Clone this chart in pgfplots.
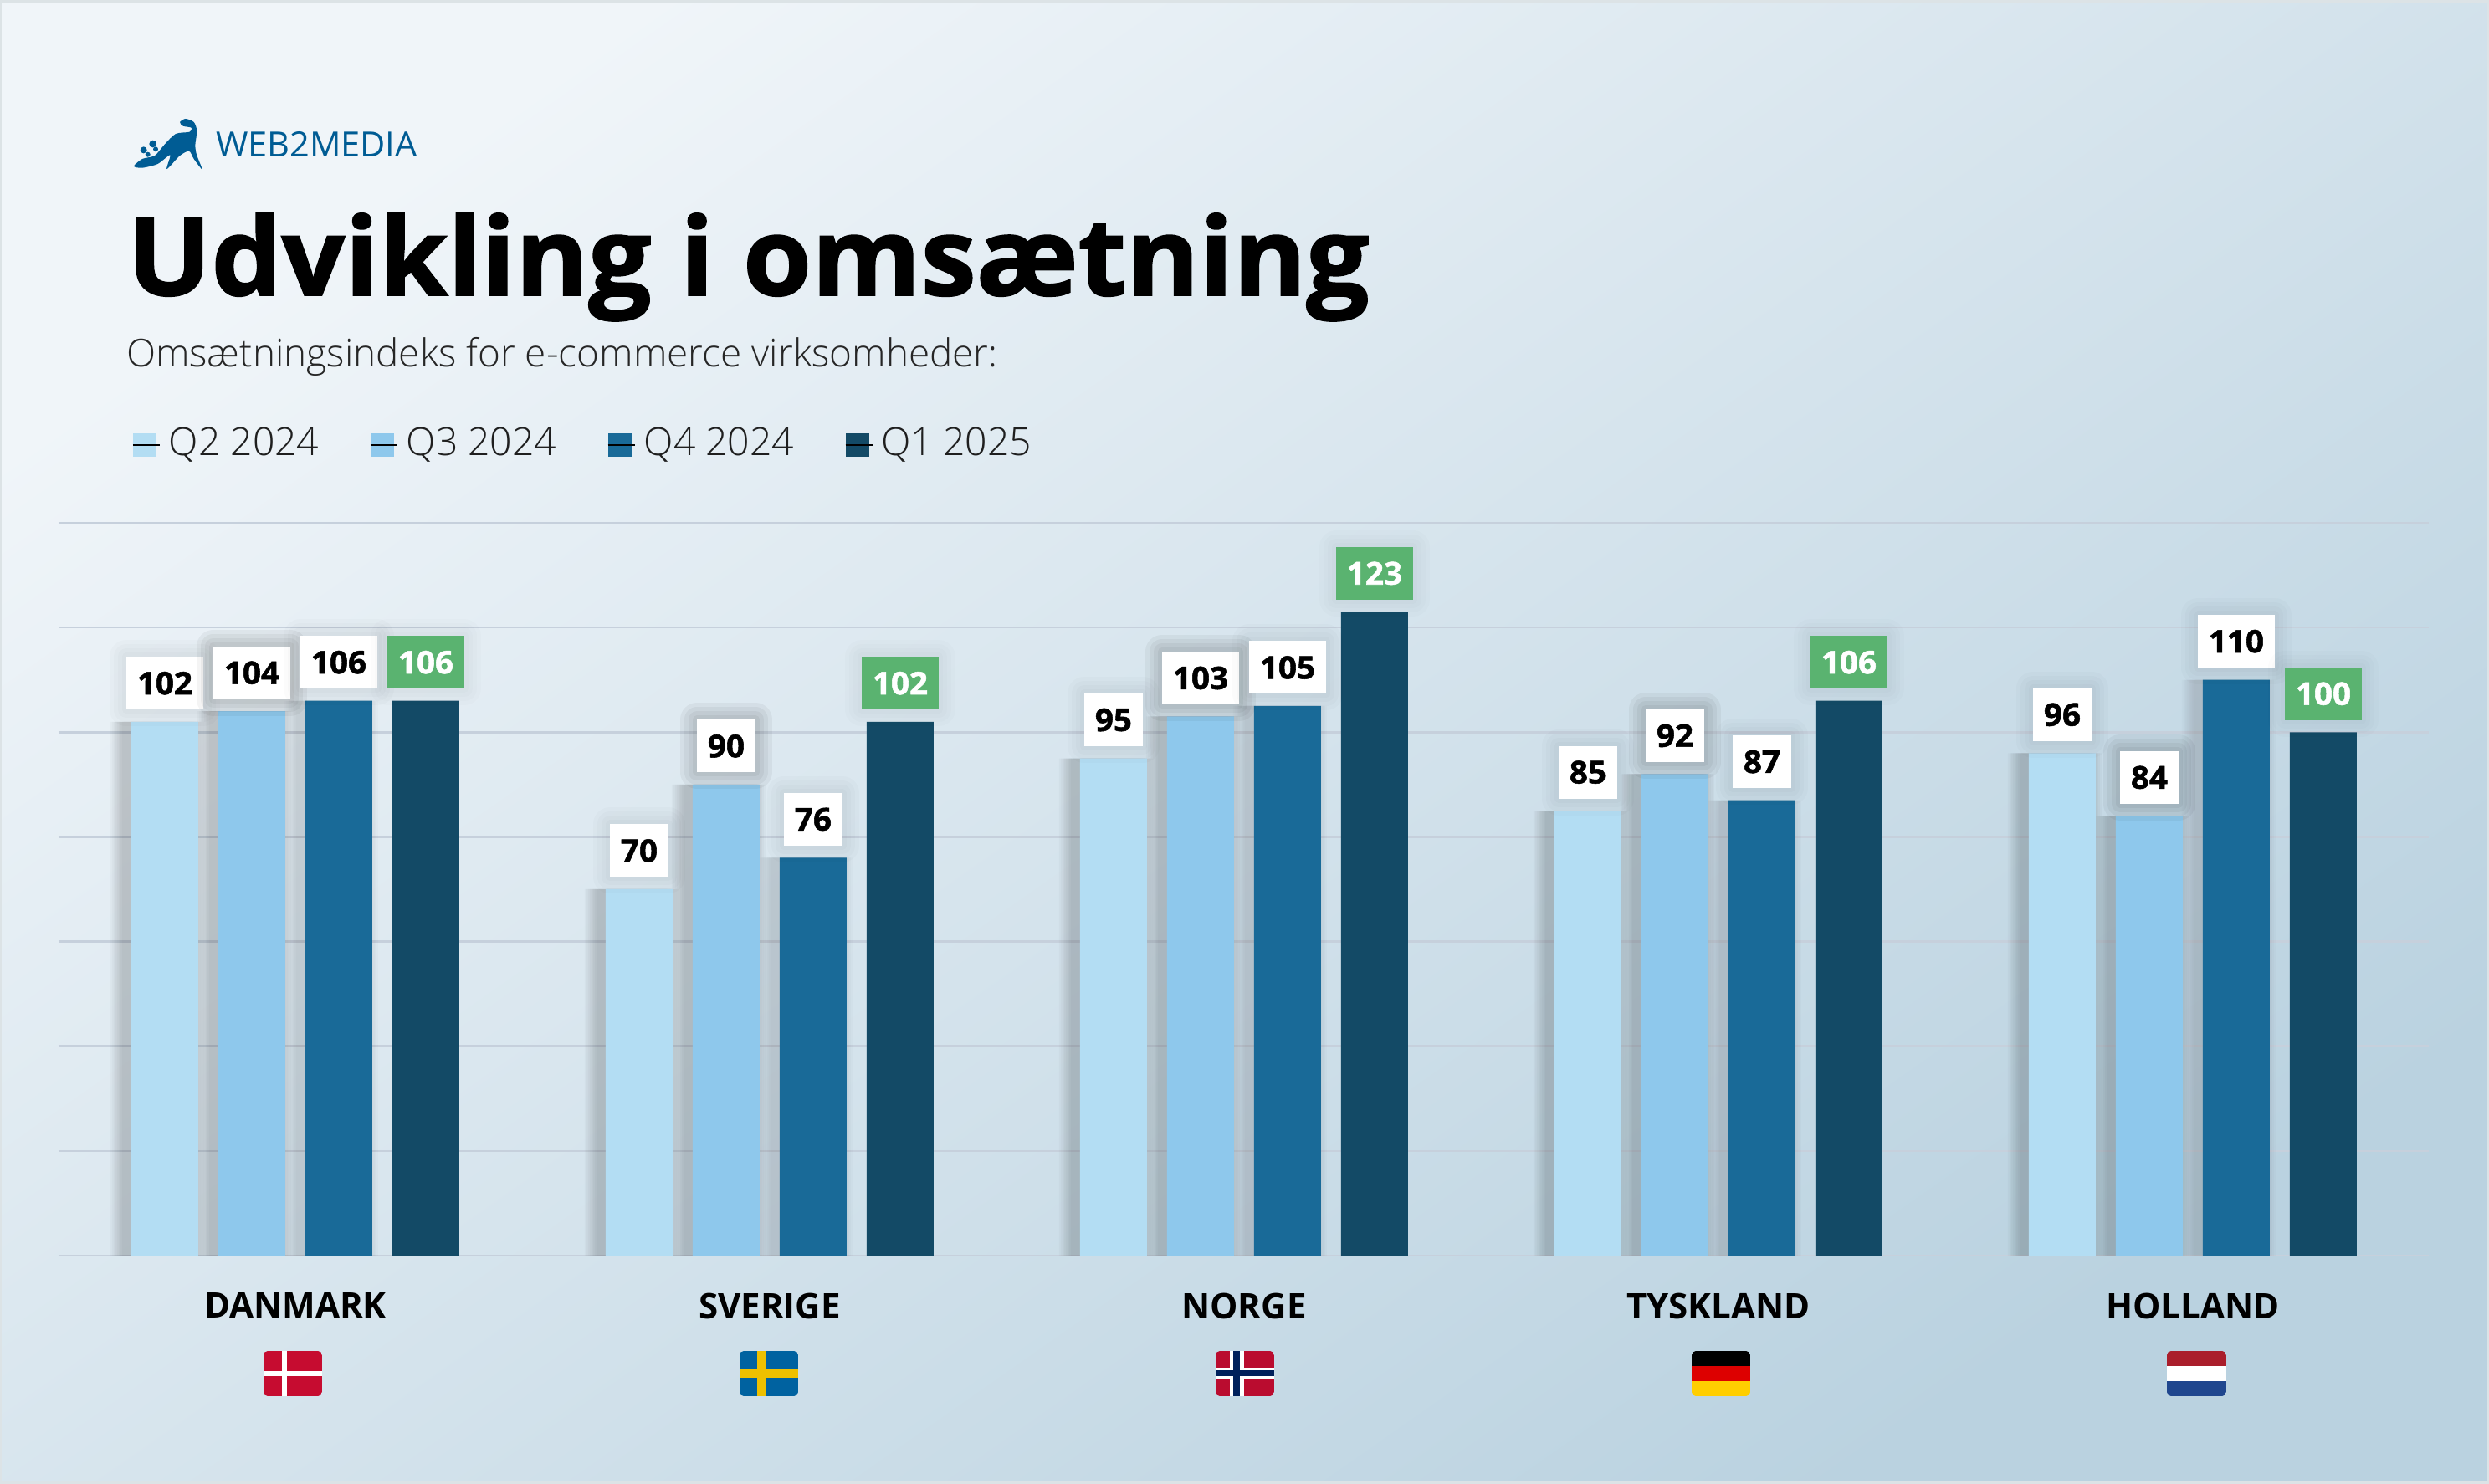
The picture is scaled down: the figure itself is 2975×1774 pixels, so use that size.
\documentclass[border=0pt]{standalone}
\usepackage{fontspec}
\usepackage{pgfplots}
\usepackage{pgfplotstable}
\pgfplotsset{compat=1.18}
\setmainfont{Open Sans}
\newfontfamily\osxb{Open Sans}[BoldFeatures={FakeBold=1.4,FakeStretch=1.03}]
\newfontfamily\oslight{Open Sans Light}

\definecolor{q2}{HTML}{B3DDF3}
\definecolor{q3}{HTML}{8EC8EC}
\definecolor{q4}{HTML}{196A98}
\definecolor{q1}{HTML}{134A66}
\definecolor{badge}{HTML}{5AB370}
\definecolor{gridc}{HTML}{C6D0DC}
\definecolor{brand}{HTML}{005C94}
\definecolor{bgstart}{HTML}{F0F5F9}
\definecolor{bgend}{HTML}{BAD2E0}
\definecolor{edge}{HTML}{DCE3E6}

\tikzset{softedge/.style={preaction={draw=black,draw opacity=#1,line width=8pt,line join=round},
    preaction={draw=black,draw opacity=#1,line width=6pt,line join=round},
    preaction={draw=black,draw opacity=#1,line width=4pt,line join=round},
    preaction={draw=black,draw opacity=#1,line width=2pt,line join=round}}}

\pgfplotstableread{
idx q2 q3 q4 q1
0 102 104 106 106
1 70 90 76 102
2 95 103 105 123
3 85 92 87 106
4 96 84 110 100
}\omsdata

% soft shadow behind a series: stacked wider bars, #1 shift, #2 column, #3 opacity
\newcommand{\shadowlayers}[3]{%
  \pgfplotsinvokeforeach{16.8,17.6,18.4,19.2,20,20.8,21.6,22.4}{%
    \addplot[forget plot,draw=none,fill=black,fill opacity=#3,bar width=##1pt,bar shift=#1pt]
      table[x=idx,y=#2] {\omsdata};
  }%
}

\begin{document}
\begin{tikzpicture}[x=.2pt,y=.2pt]
\path[use as bounding box] (0,0) rectangle (2975,1774);
\shade[left color=bgstart,right color=bgend,shading angle=35] (0,0) rectangle (2975,1774);
\fill[edge] (0,1771) rectangle (2975,1774);
\fill[edge] (0,0) rectangle (2975,3);
\fill[edge] (0,0) rectangle (2,1774);
\fill[edge] (2973,0) rectangle (2975,1774);

% logo
\begin{scope}[shift={(120,1664)},x=.0667pt,y=-.0667pt]
\fill[brand] plot[smooth cycle,tension=.45] coordinates {
 (120,266) (150,240) (195,228) (230,188) (270,150) (320,143) (326,128) (296,122) (285,108) (305,96) (335,108) (346,140) (340,190)
 (345,225) (365,278) (335,240) (318,212) (285,228) (238,276) (250,226) (205,258) (150,272)};
\fill[brand] (155,208) circle (12);
\fill[brand] (188,186) circle (13);
\fill[brand] (170,224) circle (9);
\fill[brand] (198,205) circle (9);
\end{scope}
\node[anchor=base west,inner sep=0,text=brand,font=\fontsize{8.3}{10}\selectfont] at (257,1586) {WEB2MEDIA};

% title block
\node[anchor=base west,inner sep=0,font=\osxb\bfseries\fontsize{25.8}{30}\selectfont] at (151,1421) {Udvikling i omsætning};
\node[anchor=base west,inner sep=0,text=black!85,font=\oslight\fontsize{9.18}{12}\selectfont] at (150,1335) {Omsætningsindeks for e-commerce virksomheder:};

\begin{axis}[
  at={(14pt,54.6pt)},anchor=south west,
  scale only axis,
  width=566.6pt,height=175.2pt,
  xmin=-0.499,xmax=4.4975,
  ymin=0,ymax=140,
  clip=false,
  axis line style={draw=none},
  ytick={0,20,...,140},
  yticklabels={},
  ymajorgrids=true,
  grid style={color=gridc,line width=.5pt},
  major tick length=0pt,
  xtick=data,
  xticklabels={DANMARK,SVERIGE,NORGE,TYSKLAND,HOLLAND},
  xticklabel style={font=\bfseries\fontsize{8.4}{10}\selectfont,yshift=-5.4pt},
  ybar,
  bar width=16pt,
  /pgf/number format/assume math mode=true,
  valbox/.style={nodes near coords,
    every node near coord/.append style={anchor=south,yshift=2.7pt,fill=white,inner xsep=2.6pt,inner ysep=0pt,
    minimum height=12.6pt,font=\osxb\bfseries\fontsize{7.5}{9}\selectfont,softedge=#1}},
  legend style={at={(0.0307,1.1063)},anchor=west,draw=none,fill=none,inner sep=0pt,
    legend columns=4,font=\oslight\fontsize{9.25}{12}\selectfont,text=black!88,
    /tikz/every even column/.append style={column sep=10.1pt}},
  legend image code/.code={\fill[draw=none,#1] (0pt,-2.8pt) rectangle (5.6pt,2.8pt);\path (0pt,0pt) -- (6.4pt,0pt);},
  legend cell align=left,
]
\addlegendimage{fill=q2}\addlegendentry{Q2 2024}
\addlegendimage{fill=q3}\addlegendentry{Q3 2024}
\addlegendimage{fill=q4}\addlegendentry{Q4 2024}
\addlegendimage{fill=q1}\addlegendentry{Q1 2025}

\shadowlayers{-33}{q2}{.024}
\shadowlayers{-12.2}{q3}{.024}
\shadowlayers{8.6}{q4}{.014}

\addplot[forget plot,draw=none,fill=q2,bar shift=-31.2pt,valbox=.015] table[x=idx,y=q2] {\omsdata};
\addplot[forget plot,draw=none,fill=q3,bar shift=-10.4pt,valbox=.045] table[x=idx,y=q3] {\omsdata};
\addplot[forget plot,draw=none,fill=q4,bar shift=10.4pt,valbox=.015] table[x=idx,y=q4] {\omsdata};
\addplot[forget plot,draw=none,fill=q1,bar shift=31.2pt,valbox=.012,
  nodes near coords style={fill=badge,text=white}] table[x=idx,y=q1] {\omsdata};
\end{axis}

% flags
\begin{scope}\clip[rounded corners=1pt] (315,159) rectangle ++(70,-54);
\fill[color={rgb,255:red,198;green,12;blue,48}] (315,159) rectangle ++(70,-54);
\fill[white] (337,159) rectangle ++(6,-54);
\fill[white] (315,135) rectangle ++(70,-6);
\end{scope}
\begin{scope}\clip[rounded corners=1pt] (884,159) rectangle ++(70,-54);
\fill[color={rgb,255:red,0;green,98;blue,160}] (884,159) rectangle ++(70,-54);
\fill[color={rgb,255:red,238;green,192;blue,0}] (905,159) rectangle ++(10,-54);
\fill[color={rgb,255:red,238;green,192;blue,0}] (884,137) rectangle ++(70,-10);
\end{scope}
\begin{scope}\clip[rounded corners=1pt] (1453,159) rectangle ++(70,-54);
\fill[color={rgb,255:red,186;green,12;blue,47}] (1453,159) rectangle ++(70,-54);
\fill[white] (1470,159) rectangle ++(17,-54);
\fill[white] (1453,139) rectangle ++(70,-13);
\fill[color={rgb,255:red,0;green,32;blue,91}] (1474,159) rectangle ++(8,-54);
\fill[color={rgb,255:red,0;green,32;blue,91}] (1453,136) rectangle ++(70,-7);
\end{scope}
\begin{scope}\clip[rounded corners=1pt] (2022,159) rectangle ++(70,-54);
\fill[black] (2022,159) rectangle ++(70,-18);
\fill[color={rgb,255:red,221;green,0;blue,0}] (2022,141) rectangle ++(70,-18);
\fill[color={rgb,255:red,255;green,206;blue,0}] (2022,123) rectangle ++(70,-18);
\end{scope}
\begin{scope}\clip[rounded corners=1pt] (2590,159) rectangle ++(71,-54);
\fill[color={rgb,255:red,170;green,30;blue,43}] (2590,159) rectangle ++(71,-18);
\fill[white] (2590,141) rectangle ++(71,-18);
\fill[color={rgb,255:red,31;green,70;blue,142}] (2590,123) rectangle ++(71,-18);
\end{scope}
\end{tikzpicture}
\end{document}
